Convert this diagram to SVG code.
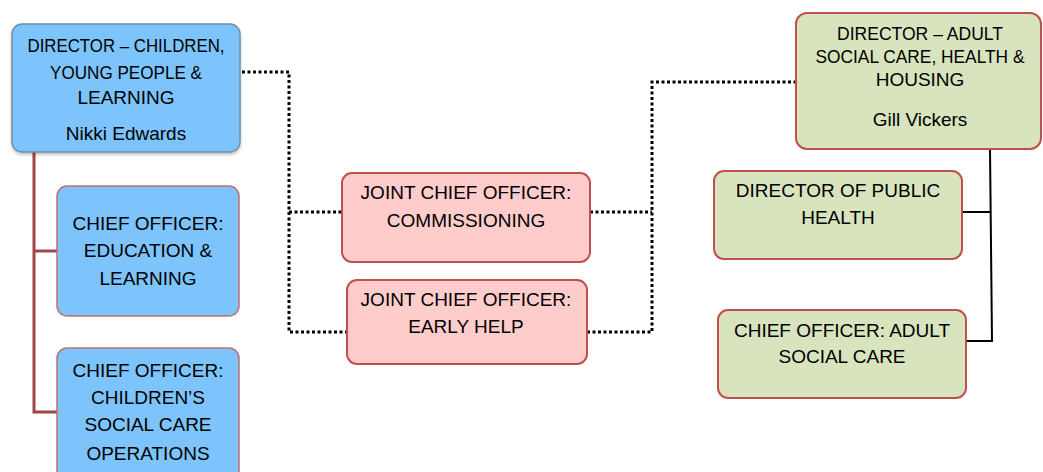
<svg xmlns="http://www.w3.org/2000/svg" width="1043" height="472" viewBox="0 0 1043 472">
<defs>
<filter id="sh" x="-10%" y="-10%" width="120%" height="130%">
<feDropShadow dx="0" dy="2" stdDeviation="1.5" flood-color="#000" flood-opacity="0.25"/>
</filter>
</defs>
<style>
text{font-family:"Liberation Sans",Arial,sans-serif;font-size:19px;fill:#000;text-anchor:middle}
.blue{fill:#7DC4FD;stroke:#C07070;stroke-width:1.5}
.blue0{fill:#7DC4FD;stroke:#6F8FAE;stroke-width:1.5}
.pink{fill:#FFCCCC;stroke:#C0504D;stroke-width:2}
.green{fill:#D7E4BD;stroke:#C0504D;stroke-width:2}
.dot{fill:none;stroke:#000;stroke-width:3;stroke-dasharray:3 2.5}
.red{fill:none;stroke:#A04545;stroke-width:3}
.blk{fill:none;stroke:#000;stroke-width:2}
</style>
<rect width="1043" height="472" fill="#fff"/>
<g id="connectors">
<polyline class="red" points="34,152 34,412 57,412"/>
<line class="red" x1="34" y1="251" x2="57" y2="251"/>
<polyline class="dot" points="242,72 289,72 289,332 347,332"/>
<line class="dot" x1="289" y1="212" x2="342" y2="212"/>
<polyline class="dot" points="587,332 652,332 652,82 795,82"/>
<line class="dot" x1="590" y1="212" x2="652" y2="212"/>
<polyline class="blk" points="990,149 992,341 966,341"/>
<line class="blk" x1="962" y1="212" x2="991" y2="212"/>
</g>
<g id="dir-children">
<rect class="blue0" x="12" y="24" width="228" height="128" rx="10" filter="url(#sh)"/>
<text x="126" y="52" textLength="197" lengthAdjust="spacingAndGlyphs">DIRECTOR – CHILDREN,</text>
<text x="126" y="79" textLength="152" lengthAdjust="spacingAndGlyphs">YOUNG PEOPLE &amp;</text>
<text x="126" y="104">LEARNING</text>
<text x="126" y="140">Nikki Edwards</text>
</g>
<g id="co-education">
<rect class="blue" x="57" y="186" width="182" height="130" rx="10"/>
<text x="148" y="230">CHIEF OFFICER:</text>
<text x="148" y="257">EDUCATION &amp;</text>
<text x="148" y="285">LEARNING</text>
</g>
<g id="co-childrens">
<rect class="blue" x="57" y="348" width="182" height="140" rx="10"/>
<text x="148" y="377">CHIEF OFFICER:</text>
<text x="148" y="404">CHILDREN’S</text>
<text x="148" y="431">SOCIAL CARE</text>
<text x="148" y="460">OPERATIONS</text>
</g>
<g id="jco-commissioning">
<rect class="pink" x="342" y="173" width="248" height="89" rx="10"/>
<text x="466" y="199">JOINT CHIEF OFFICER:</text>
<text x="466" y="227">COMMISSIONING</text>
</g>
<g id="jco-earlyhelp">
<rect class="pink" x="347" y="280" width="240" height="84" rx="10"/>
<text x="466" y="306">JOINT CHIEF OFFICER:</text>
<text x="466" y="333">EARLY HELP</text>
</g>
<g id="dir-adult">
<rect class="green" x="796" y="13" width="245" height="136" rx="11"/>
<text x="920" y="40" textLength="166" lengthAdjust="spacingAndGlyphs">DIRECTOR – ADULT</text>
<text x="920" y="63" textLength="209" lengthAdjust="spacingAndGlyphs">SOCIAL CARE, HEALTH &amp;</text>
<text x="920" y="86">HOUSING</text>
<text x="920" y="126">Gill Vickers</text>
</g>
<g id="dir-public-health">
<rect class="green" x="714" y="171" width="248" height="88" rx="10"/>
<text x="838" y="197">DIRECTOR OF PUBLIC</text>
<text x="838" y="224">HEALTH</text>
</g>
<g id="co-adult-social">
<rect class="green" x="718" y="310" width="248" height="88" rx="10"/>
<text x="842" y="337">CHIEF OFFICER: ADULT</text>
<text x="842" y="363">SOCIAL CARE</text>
</g>
</svg>
